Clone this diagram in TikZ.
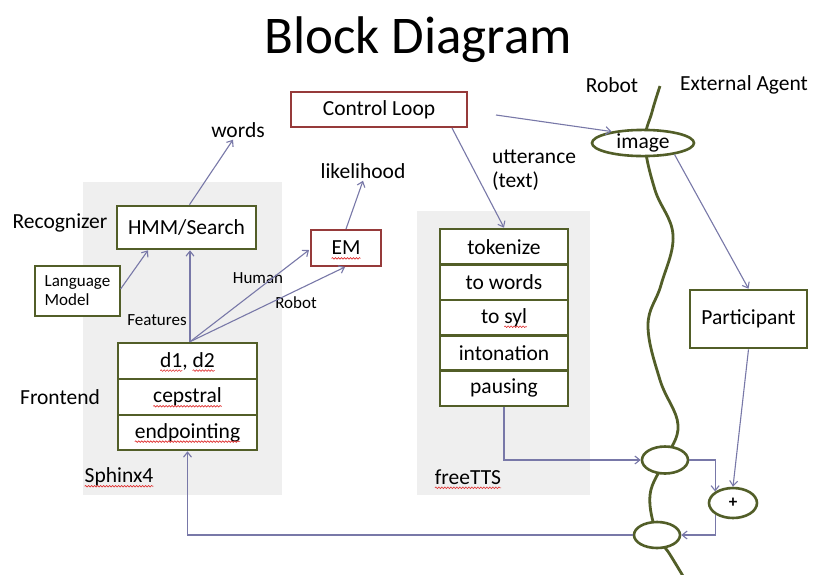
\documentclass[tikz,border=0pt]{standalone}
\usepackage{fontspec}
\setmainfont{Carlito}
\usetikzlibrary{arrows.meta,shapes.geometric,decorations.pathmorphing}

\definecolor{olivec}{HTML}{525E28}
\definecolor{redc}{HTML}{963A3A}
\definecolor{arrowc}{HTML}{7878A8}
\definecolor{panelc}{HTML}{EFEFEF}
\definecolor{spellc}{HTML}{E03030}

% wavy red underline for unknown words
\newcommand\spellmark[1]{\tikz[x=1pt,y=1pt,baseline=(sw.base)]{%
  \node[shape=rectangle,inner sep=0pt,outer sep=0pt,anchor=base west,draw=none,fill=none,
        minimum width=0pt,minimum height=0pt] (sw) at (0,0) {#1};%
  \draw[overlay, draw=spellc, line width=0.6pt, decorate,
        decoration={snake, amplitude=0.8pt, segment length=3pt}]
    ([yshift=-3.5pt]sw.base west) -- ([yshift=-3.5pt]sw.base east);}}

\begin{document}
\begin{tikzpicture}[x=1pt,y=-1pt,
  txt/.style={font=\fontsize{21.5}{24}\selectfont, inner sep=0pt},
  small/.style={font=\fontsize{17}{19}\selectfont, inner sep=0pt},
  panel/.style={fill=panelc, draw=none},
  obox/.style={draw=olivec, line width=2.6pt, fill=white, inner sep=0pt,
               font=\fontsize{21.5}{24}\selectfont},
  rbox/.style={draw=redc, line width=2pt, fill=white, inner sep=0pt,
               font=\fontsize{21.5}{24}\selectfont},
  oell/.style={ellipse, draw=olivec, line width=2.6pt, fill=white, inner sep=0pt},
  arr/.style={draw=arrowc, line width=1.1pt, -{Straight Barb[length=5pt,width=8pt]}},
  lifeline/.style={draw=olivec, line width=2.8pt},
]
\useasboundingbox[fill=white] (0,0) rectangle (817,574);

% title
\node[font=\fontsize{53}{60}\selectfont, inner sep=0pt] (title) at (418,40) {Block Diagram};

% grey panels
\fill[panel] (83,182) rectangle (282,495);
\fill[panel] (417,211) rectangle (590,495);

% robot / external agent boundary
\draw[lifeline] plot[smooth, tension=0.65] coordinates {
  (660,86) (652,112) (645,143) (655,190) (673,235) (661,285) (648,325)
  (660,380) (678,425) (665,460) (650,495) (657,535) (669,553) (683,576)};

% Sphinx4 side
\node[obox, minimum width=139pt, minimum height=43pt] (hmm) at (186.5,227.5) {HMM/Search};
\node[draw=olivec, line width=1.2pt, fill=white, minimum width=85pt, minimum height=50pt,
      small, align=left] (lm) at (77.5,291) {Language\\Model};
\node[rbox, minimum width=70pt, minimum height=36pt] (em) at (346,248) {\spellmark{EM}};
\node[obox, minimum width=139pt, minimum height=36pt] (d12) at (187.5,361) {\spellmark{d1}, \spellmark{d2}};
\node[obox, minimum width=139pt, minimum height=36pt] (cep) at (187.5,397) {\spellmark{cepstral}};
\node[obox, minimum width=139pt, minimum height=35pt] (endp) at (187.5,432.5) {\spellmark{endpointing}};

\node[txt] (words) at (238,130) {words};
\node[txt] (lik) at (363,171) {likelihood};
\node[txt] (recog) at (60,223) {Recognizer};
\node[txt] (front) at (60,397) {Frontend};
\node[txt] (sphinx) at (119,477) {\spellmark{Sphinx4}};
\node[small] (feat) at (157,320) {Features};
\node[small] (human) at (258,278) {Human};
\node[small] (robotl) at (296,303) {Robot};

% control loop and freeTTS
\node[rbox, minimum width=176pt, minimum height=35pt] (ctrl) at (379,109.5) {Control Loop};
\node[txt, anchor=north west, align=left] (utt) at (492,150) {utterance\\(text)};
\node[obox, minimum width=128pt, minimum height=35.4pt] (tok) at (504,246.7) {tokenize};
\node[obox, minimum width=128pt, minimum height=35.4pt] (tow) at (504,282.1) {to words};
\node[obox, minimum width=128pt, minimum height=35.4pt] (tos) at (504,317.5) {to \spellmark{syl}};
\node[obox, minimum width=128pt, minimum height=35.4pt] (inton) at (504,352.9) {intonation};
\node[obox, minimum width=128pt, minimum height=35.4pt] (paus) at (504,388.3) {pausing};
\node[txt] (ftts) at (468,477) {\spellmark{freeTTS}};

% agent side
\node[txt] (robot) at (612,85) {Robot};
\node[txt] (ext) at (744,85) {External Agent};
\node[oell, minimum width=102pt, minimum height=26pt, font=\fontsize{21.5}{24}\selectfont] (img) at (643,143) {image};
\node[obox, minimum width=117pt, minimum height=58pt] (part) at (748.5,319) {Participant};
\node[oell, minimum width=46pt, minimum height=27pt] (ue) at (665,460) {};
\node[oell, minimum width=46pt, minimum height=26pt] (le) at (657,535) {};
\node[oell, minimum width=48pt, minimum height=30pt, font=\bfseries\fontsize{17}{19}\selectfont] (plus) at (733,503) {+};

% connectors
\draw[arr] ([xshift=3pt]hmm.north) -- ([xshift=-5pt,yshift=-2pt]words.south);
\draw[arr] ([yshift=2pt]lm.east) -- ([xshift=-38.5pt]hmm.south);
\draw[arr] ([xshift=2.5pt]d12.north) -- ([xshift=3.5pt]hmm.south);
\draw[arr] ([xshift=2.5pt]d12.north) -- ([xshift=-1pt,yshift=-2pt]em.west);
\draw[arr] ([xshift=2.5pt]d12.north) -- ([xshift=-1pt]em.south);
\draw[arr] (em.north) -- ([yshift=-2pt]lik.south);
\draw[arr] ([xshift=73pt]ctrl.south) -- (tok.north);
\draw[arr] ([xshift=28pt,yshift=-5.5pt]ctrl.east) -- (img.160);
\draw[arr] (img.-20) -- (part.north);
\draw[arr] (part.south) -- (plus.north);
\draw[arr] (paus.south) |- (ue.west);
\draw[arr] (ue.east) -| (plus.north west);
\draw[arr] (plus.south west) |- (le.east);
\draw[arr] (le.west) -| (endp.south);
\end{tikzpicture}
\end{document}
